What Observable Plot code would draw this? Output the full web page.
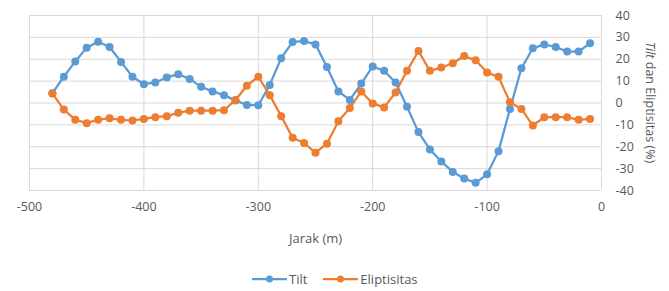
<!DOCTYPE html>
<html>
<head>
<meta charset="utf-8">
<script src="https://cdn.jsdelivr.net/npm/d3@7"></script>
<script src="https://cdn.jsdelivr.net/npm/@observablehq/plot@0.6"></script>
<style>
  html, body { margin: 0; padding: 0; background: #fff; }
  body { width: 669px; height: 291px; overflow: hidden; font-family: "Open Sans", Lato, sans-serif; }
  #legend { display: flex; justify-content: flex-start; align-items: center; height: 20px; margin-top: 7px; padding-left: 252px; font-size: 13px; color: #595959; }
  #legend .item { display: inline-flex; align-items: center; margin-right: 16px; }
  #legend .item svg { margin-right: 2px; }
</style>
</head>
<body>
<div id="chart"></div>
<div id="legend"></div>
<script>
const jarak = [-480,-470,-460,-450,-440,-430,-420,-410,-400,-390,-380,-370,-360,-350,-340,-330,
  -320,-310,-300,-290,-280,-270,-260,-250,-240,-230,-220,-210,-200,-190,-180,-170,-160,
  -150,-140,-130,-120,-110,-100,-90,-80,-70,-60,-50,-40,-30,-20,-10];
const tilt = [4.5,12,19,25.3,28,25.6,18.8,12,8.6,9.4,11.7,13.2,11,7.4,5.3,3.6,
  1.2,-0.9,-1,8.2,20.5,27.9,28.3,26.8,16.5,5.3,1.4,8.9,16.7,14.7,9.4,-1.7,-13.3,
  -21.2,-26.7,-31.5,-34.5,-36.5,-32.6,-22,-2.7,15.9,25,26.8,25.6,23.5,23.5,27.3];
const eliptisitas = [4.4,-3,-7.6,-9.2,-7.6,-7,-7.7,-8,-7.3,-6.5,-6,-4.5,-3.5,-3.5,-3.5,-3.3,
  1.4,7.9,12,3.6,-6,-15.9,-18.3,-22.7,-18.6,-8.3,-2.3,5.3,-0.2,-2,4.8,14.7,23.8,
  14.7,16.2,18.2,21.5,19.5,13.9,12,0.3,-2.7,-10.3,-6.5,-6.5,-6.5,-7.7,-7.3];
const seriesNames = ["Tilt", "Eliptisitas"];
const seriesColors = ["#5b9bd5", "#ed7d31"];
const xTicks = [-500,-400,-300,-200,-100,0];
const yTicks = [-40,-30,-20,-10,0,10,20,30,40];
const xLabel = "Jarak (m)";

const rows = [];
jarak.forEach((x, i) => rows.push({x, y: tilt[i], s: seriesNames[0]}));
jarak.forEach((x, i) => rows.push({x, y: eliptisitas[i], s: seriesNames[1]}));

const fmt = d => String(d);
const W = 669, H = 262;
const chart = Plot.plot({
  width: W, height: H,
  marginLeft: 29, marginRight: 68, marginTop: 15, marginBottom: 72,
  style: {fontFamily: "'Open Sans', Lato, sans-serif", fontSize: "12.5px", color: "#595959", background: "#fff"},
  x: {domain: [-500, 0], ticks: xTicks},
  y: {domain: [-40, 40], ticks: yTicks},
  color: {domain: seriesNames, range: seriesColors},
  marks: [
    Plot.gridY(yTicks, {stroke: "#d9d9d9", strokeOpacity: 1, strokeWidth: 1}),
    Plot.gridX(xTicks, {stroke: "#d9d9d9", strokeOpacity: 1, strokeWidth: 1}),
    Plot.axisX(xTicks, {tickSize: 0, tickPadding: 12, fontSize: 12.5, label: null, fill: "#595959", tickFormat: fmt}),
    Plot.axisY(yTicks, {anchor: "right", tickSize: 0, tickPadding: 14, fontSize: 12.5, label: null, fill: "#595959", textAnchor: "start", tickFormat: fmt}),
    Plot.text([xLabel], {frameAnchor: "bottom", dy: 52, fontSize: 13, fill: "#595959"}),
    Plot.line(rows, {x: "x", y: "y", z: "s", stroke: "s", strokeWidth: 2.25}),
    Plot.dot(rows, {x: "x", y: "y", fill: "s", r: 4, stroke: null})
  ]
});
document.getElementById("chart").appendChild(chart);

// Right axis title with italic "Tilt"
const svg = d3.select(chart);
const t = svg.append("text")
  .attr("transform", `translate(${W - 20},${(15 + (H - 72)) / 2}) rotate(90)`)
  .attr("text-anchor", "middle")
  .attr("dominant-baseline", "middle")
  .attr("font-size", 12.5)
  .attr("fill", "#595959");
t.append("tspan").attr("font-style", "italic").text("Tilt");
t.append("tspan").text(" dan Eliptisitas (%)");

// Legend
const legend = d3.select("#legend");
seriesNames.forEach((name, i) => {
  const item = legend.append("span").attr("class", "item");
  const s = item.append("svg").attr("width", 35).attr("height", 10);
  s.append("line").attr("x1", 0).attr("x2", 35).attr("y1", 5).attr("y2", 5)
    .attr("stroke", seriesColors[i]).attr("stroke-width", 2.25);
  s.append("circle").attr("cx", 17.5).attr("cy", 5).attr("r", 3.5).attr("fill", seriesColors[i]);
  item.append("span").text(name);
});
</script>
</body>
</html>
